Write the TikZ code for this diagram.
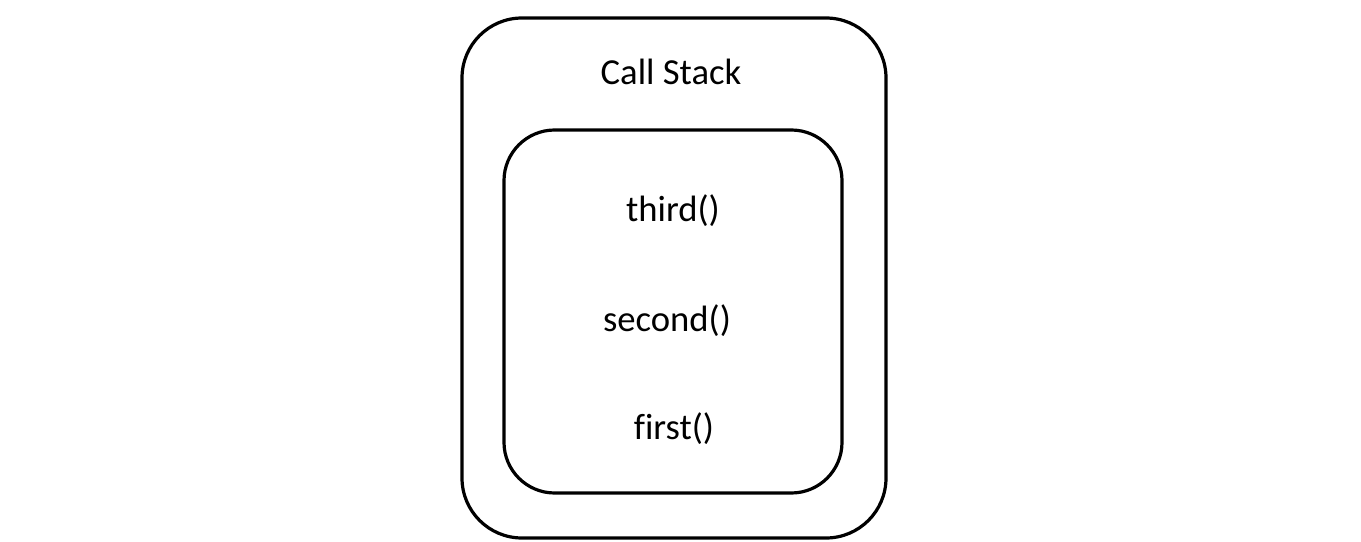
\documentclass[tikz,border=0pt]{standalone}
\usepackage{fontspec}
\setmainfont{Carlito}[Ligatures=NoCommon]
\begin{document}
\begin{tikzpicture}[x=0.75pt,y=-0.75pt,
  box/.style={draw=black,line width=2.4pt,rounded corners=#1},
  lbl/.style={font=\fontsize{27.5}{32}\selectfont,inner sep=0pt,anchor=base}]
\useasboundingbox (0,0) rectangle (1361,542);
\draw[box=45pt] (462,18) rectangle (886,538);
\draw[box=38pt] (504,130) rectangle (842,493);
\node[lbl] (title) at (671,85) {Call Stack};
\node[lbl] (third) at (673,221) {third()};
\node[lbl] (second) at (667,331) {second()};
\node[lbl] (first) at (674,439) {first()};
\end{tikzpicture}
\end{document}
